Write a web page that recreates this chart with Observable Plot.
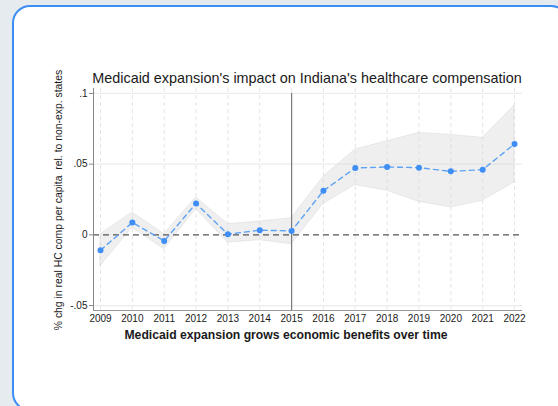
<!DOCTYPE html>
<html>
<head>
<meta charset="utf-8">
<script src="https://cdn.jsdelivr.net/npm/d3@7"></script>
<script src="https://cdn.jsdelivr.net/npm/@observablehq/plot@0.6"></script>
<style>
  html, body { margin: 0; padding: 0; overflow: hidden; background: #e6ebef; }
  #page { width: 558px; height: 406px; background: #e6ebef; position: relative; overflow: hidden; font-family: "Liberation Sans", Arial, Helvetica, sans-serif; }
  #card { position: absolute; left: 12px; top: 5px; width: 553px; height: 402px; border: 2px solid #3c8ef2; border-radius: 18px; background: #fff; }
  #chart { position: absolute; left: 0; top: 0; }
  .lbl { position: absolute; white-space: nowrap; color: #1a1a1a; line-height: 1; }
  #title { left: 0; width: 614px; top: 71px; text-align: center; font-size: 14.4px; }
  #xtitle { left: 0; width: 572px; top: 329px; text-align: center; font-size: 12.2px; font-weight: bold; }
  #ytitle { left: 59px; top: 200px; font-size: 10.4px; transform: translate(-50%, -50%) rotate(-90deg); }
</style>
</head>
<body>
<div id="page">
<div id="card"></div>
<div id="chart"></div>
<div class="lbl" id="title">Medicaid expansion's impact on Indiana's healthcare compensation</div>
<div class="lbl" id="xtitle">Medicaid expansion grows economic benefits over time</div>
<div class="lbl" id="ytitle">% chg in real HC comp per capita&nbsp; rel. to non-exp. states</div>
</div>
<script>
const years = [2009, 2010, 2011, 2012, 2013, 2014, 2015, 2016, 2017, 2018, 2019, 2020, 2021, 2022];
const estimate = [-0.0109, 0.0087, -0.0043, 0.0222, 0.0005, 0.0033, 0.0028, 0.0312, 0.0473, 0.0480, 0.0475, 0.0449, 0.0461, 0.0643];
const ciLow = [-0.0220, 0.0050, -0.0101, 0.0182, -0.0055, -0.0038, -0.0066, 0.0218, 0.0352, 0.0312, 0.0234, 0.0194, 0.0241, 0.0371];
const ciHigh = [0.0005, 0.0158, 0.0005, 0.0265, 0.0076, 0.0094, 0.0118, 0.0411, 0.0603, 0.0662, 0.0721, 0.0707, 0.0686, 0.0915];
const yTicks = [-0.05, 0, 0.05, 0.1];
const yTickLabels = ["-.05", "0", ".05", ".1"];
const expansionYear = 2015;

const data = years.map((year, i) => ({year, est: estimate[i], lo: ciLow[i], hi: ciHigh[i]}));
const xDomain = [2008.78, 2022.25];
const yDomain = [-0.0535, 0.1035];

const chart = Plot.plot({
  width: 558,
  height: 406,
  marginLeft: 93,
  marginRight: 36,
  marginTop: 88,
  marginBottom: 96,
  style: {background: "transparent", fontFamily: "'Liberation Sans', Arial, Helvetica, sans-serif", color: "#1a1a1a"},
  x: {domain: xDomain},
  y: {domain: yDomain},
  marks: [
    Plot.ruleX(years, {stroke: "#e4e4e4", strokeDasharray: "4,3", strokeWidth: 1}),
    Plot.ruleY([0.1, 0.05, -0.05], {stroke: "#ececec", strokeWidth: 1.2}),
    Plot.areaY(data, {x: "year", y1: "lo", y2: "hi", fill: "#d8d8d8", fillOpacity: 0.42, stroke: "#d6d6d6", strokeOpacity: 0.6, strokeWidth: 0.8}),
    Plot.ruleY([0], {stroke: "#555", strokeDasharray: "6,4", strokeWidth: 1.3}),
    Plot.ruleX([expansionYear], {y1: yDomain[0], y2: 0.1, stroke: "#7a7a7a", strokeWidth: 1.2}),
    Plot.lineY(data, {x: "year", y: "est", stroke: "#5ea2f2", strokeWidth: 1.4, strokeDasharray: "5,4"}),
    Plot.dot(data, {x: "year", y: "est", r: 3, fill: "#3f8ef5", stroke: "none"}),
    Plot.ruleX([xDomain[0]], {stroke: "#888", strokeWidth: 1}),
    Plot.ruleY([yDomain[0]], {stroke: "#999", strokeWidth: 1}),
    Plot.axisX({ticks: years, tickFormat: d => String(d), tickSize: 0, tickPadding: 4, fontSize: 10, label: null, stroke: "#888"}),
    Plot.axisY({ticks: yTicks, tickFormat: d => yTickLabels[yTicks.indexOf(d)], tickSize: 4, tickPadding: 2, fontSize: 10, label: null, stroke: "#888"})
  ]
});
document.getElementById("chart").appendChild(chart);
</script>
</body>
</html>
